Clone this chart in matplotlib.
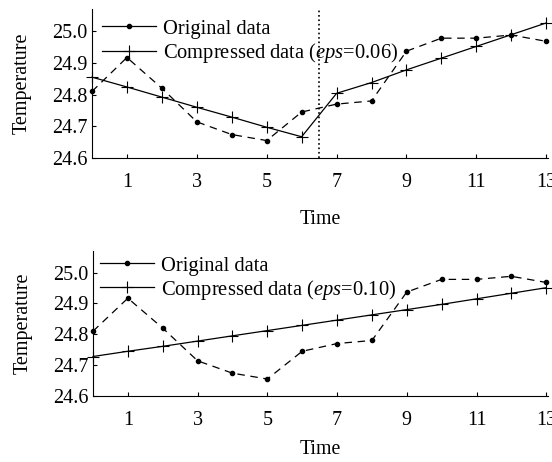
import matplotlib
matplotlib.use('Agg')
import matplotlib.pyplot as plt
import numpy as np

plt.rcParams['font.family'] = ['Liberation Serif', 'DejaVu Serif']
plt.rcParams['mathtext.fontset'] = 'custom'
plt.rcParams['mathtext.rm'] = 'Liberation Serif'
plt.rcParams['mathtext.it'] = 'Liberation Serif:italic'

time = np.arange(0, 14)
original = [24.810, 24.917, 24.820, 24.714, 24.674, 24.655, 24.745,
            24.770, 24.780, 24.937, 24.978, 24.978, 24.988, 24.968]

comp_006 = [24.855, 24.824, 24.792, 24.760, 24.729, 24.697, 24.667,
            24.804, 24.838, 24.878, 24.915, 24.952, 24.989, 25.026]
comp_010 = [24.728, 24.745, 24.761, 24.778, 24.795, 24.812, 24.829,
            24.846, 24.863, 24.880, 24.897, 24.915, 24.933, 24.951]

split_time = 6.5
xticks = [1, 3, 5, 7, 9, 11, 13]
yticks = [24.6, 24.7, 24.8, 24.9, 25.0]

fig = plt.figure(figsize=(5.52, 4.62), dpi=100)
ax1 = fig.add_axes([92 / 552, 1 - 158 / 462, 456 / 552, 149 / 462])
ax2 = fig.add_axes([93 / 552, 1 - 396 / 462, 455 / 552, 145 / 462])


def style(ax, xlabelpad):
    ax.plot(time, original, linestyle=(0, (6, 4.5)), color='black', lw=0.9,
            marker='o', markersize=3, label='Original data', clip_on=False)
    ax.set_xlim(0, 13.05)
    ax.set_ylim(24.6, 25.07)
    ax.set_xticks(xticks)
    ax.set_yticks(yticks)
    ax.set_yticklabels(['%.1f' % v for v in yticks])
    ax.spines['top'].set_visible(False)
    ax.spines['right'].set_visible(False)
    ax.tick_params(axis='both', direction='in', length=3, labelsize=14.5,
                   width=0.8)
    ax.tick_params(axis='x', pad=11)
    ax.tick_params(axis='y', pad=3)
    ax.set_xlabel('Time', fontsize=14.3, labelpad=xlabelpad)
    ax.set_ylabel('Temperature', fontsize=14.5, labelpad=15)


style(ax1, 13)
ax1.plot(time, comp_006, color='black', lw=0.9, marker='+', markersize=8,
         markeredgewidth=0.8, label='Compressed data ($eps$=0.06)', clip_on=False)
ax1.axvline(split_time, color='black', linestyle=':', lw=1.2)

style(ax2, 7)
ax2.plot(time, comp_010, color='black', lw=0.9, marker='+', markersize=8,
         markeredgewidth=0.8, label='Compressed data ($eps$=0.10)', clip_on=False)

anchors = [(0.0, 1.0), (-0.007, 1.035)]
for ax, anchor in zip((ax1, ax2), anchors):
    leg = ax.legend(loc='upper left', frameon=False, fontsize=14.8,
                    handlelength=2.6, handletextpad=0.35, labelspacing=0.1,
                    borderaxespad=0.1, bbox_to_anchor=anchor)
    for h in leg.legend_handles:
        h.set_linestyle('-')

fig.savefig('out.png', dpi=100)
